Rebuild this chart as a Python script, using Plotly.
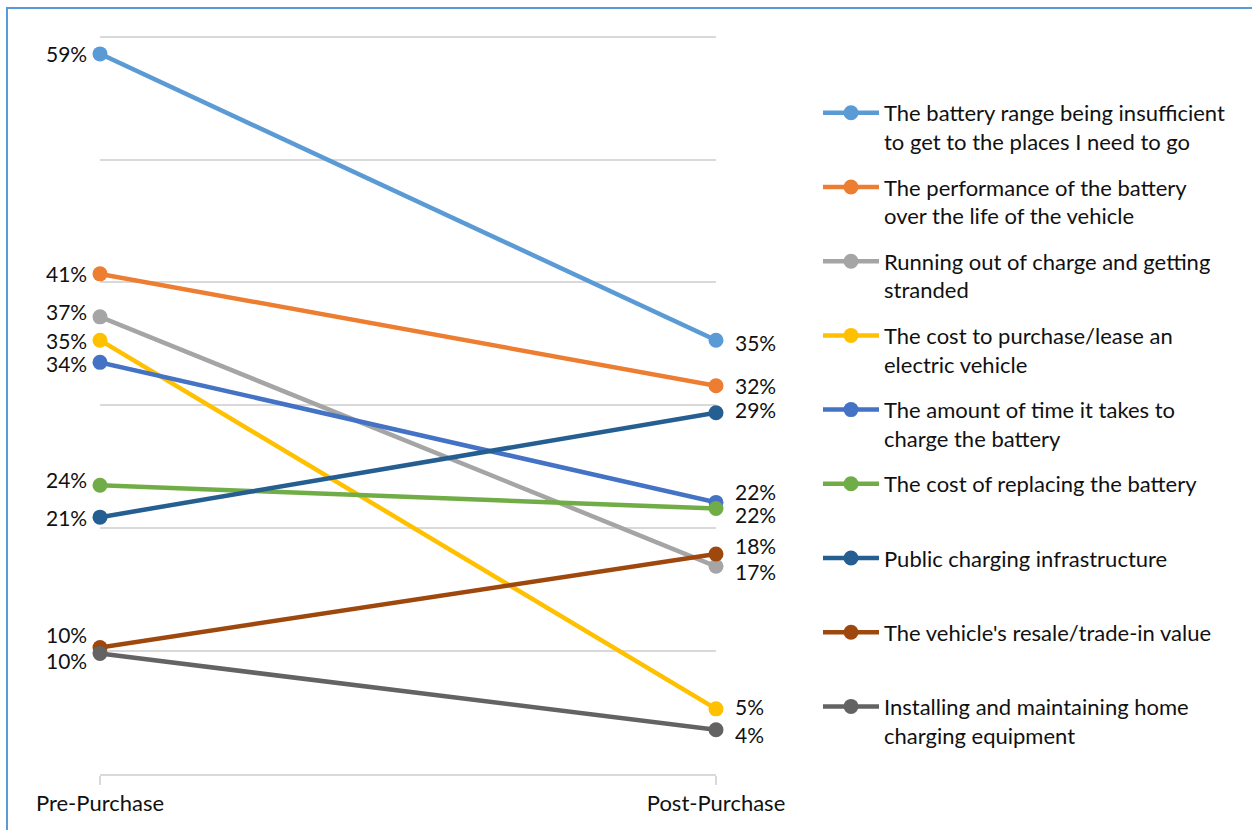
import plotly.graph_objects as go

stages = ["Pre-Purchase", "Post-Purchase"]

names = [
    "The battery range being insufficient<br>to get to the places I need to go",
    "The performance of the battery<br>over the life of the vehicle",
    "Running out of charge and getting<br>stranded",
    "The cost to purchase/lease an<br>electric vehicle",
    "The amount of time it takes to<br>charge the battery",
    "The cost of replacing the battery<br>&nbsp;",
    "Public charging infrastructure<br>&nbsp;",
    "The vehicle's resale/trade-in value<br>&nbsp;",
    "Installing and maintaining home<br>charging equipment",
]

pre_values = [58.6, 40.7, 37.2, 35.3, 33.5, 23.5, 20.9, 10.3, 9.8]
post_values = [35.3, 31.6, 16.9, 5.3, 22.1, 21.6, 29.4, 17.9, 3.6]

colors = ["#5B9BD5", "#ED7D31", "#A5A5A5", "#FFC000", "#4472C4",
          "#70AD47", "#255E91", "#9E480E", "#636363"]

# vertical nudges (px) of data labels to avoid overlaps
pre_label_shift = [0, 0, 5, 0, -1, 6, 0, 13, -7]
post_label_shift = [-2, 0, -5, 2, 11, -6, 3, 9, -5]

FONT = "Lato, Calibri, Carlito, sans-serif"
TXT = "#111111"
H = 741  # plot-area height in px

fig = go.Figure()
for i, n in enumerate(names):
    fig.add_trace(go.Scatter(
        x=stages, y=[pre_values[i], post_values[i]],
        mode="lines+markers", name=n, legendgroup=f"g{i}",
        line=dict(color=colors[i], width=4.5),
        marker=dict(color=colors[i], size=15),
        cliponaxis=False,
        hoverinfo="skip",
    ))

annotations = []
for i in range(len(names)):
    annotations.append(dict(
        x=stages[0], y=pre_values[i], xref="x", yref="y",
        text=f"{round(pre_values[i])}%", showarrow=False,
        xanchor="right", yanchor="middle", xshift=-11, yshift=pre_label_shift[i],
        font=dict(family=FONT, size=21, color=TXT)))
    annotations.append(dict(
        x=stages[1], y=post_values[i], xref="x", yref="y",
        text=f"{round(post_values[i])}%", showarrow=False,
        xanchor="left", yanchor="middle", xshift=17, yshift=post_label_shift[i],
        font=dict(family=FONT, size=21, color=TXT)))

fig.update_layout(
    width=1252, height=830,
    margin=dict(l=100, r=536, t=33, b=56),
    paper_bgcolor="white", plot_bgcolor="white",
    font=dict(family=FONT, size=21, color=TXT),
    showlegend=True,
    legend=dict(
        xref="paper", yref="paper",
        x=(818 - 100) / 616, y=(774 - 92) / H, xanchor="left", yanchor="top",
        valign="top", tracegroupgap=14, itemwidth=56,
        font=dict(family=FONT, size=22, color=TXT),
        bgcolor="rgba(0,0,0,0)",
    ),
    xaxis=dict(
        type="category", range=[0, 1], showgrid=False,
        showline=True, linecolor="#D9D9D9", linewidth=1.5,
        ticks="outside", ticklen=9, tickcolor="#D9D9D9", tickwidth=1.5,
        tickfont=dict(family=FONT, size=22, color=TXT), zeroline=False,
    ),
    yaxis=dict(
        range=[0, 60.3], dtick=10, showgrid=True, gridcolor="#D9D9D9",
        gridwidth=1.5, showticklabels=False, zeroline=False, showline=False,
    ),
    annotations=annotations,
    shapes=[dict(
        type="rect", xref="paper", yref="paper",
        x0=(7 - 100) / 616, x1=(1262 - 100) / 616,
        y0=(774 - 840) / H, y1=(774 - 8) / H,
        line=dict(color="#5B9BD5", width=2), fillcolor="rgba(0,0,0,0)",
        layer="below")],
)

fig.write_html("out.html")
